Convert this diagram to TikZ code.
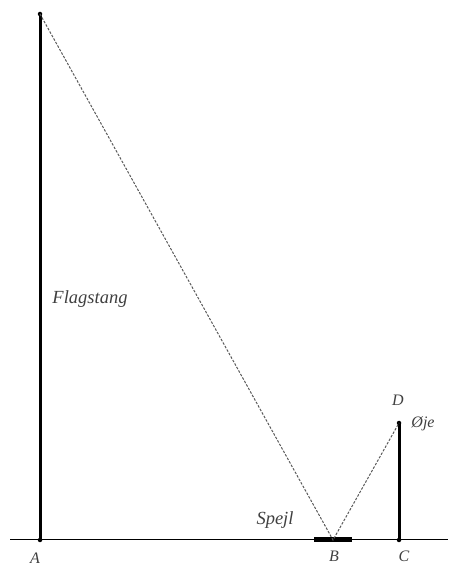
\documentclass[tikz,border=0pt]{standalone}
\usepackage{fontspec}
\setmainfont{Liberation Serif}
\begin{document}
\begin{tikzpicture}[x=1pt,y=1pt,
  pt/.style={circle,fill=black,inner sep=0pt,minimum size=4.5pt},
  lbl/.style={font=\itshape\fontsize{16}{16}\selectfont,text=black!75,inner sep=0pt},
  biglbl/.style={font=\itshape\fontsize{18.5}{18.5}\selectfont,text=black!75,inner sep=0pt},
  ray/.style={dash pattern=on 2.5pt off 1.5pt,draw=black!65,line width=1pt},
  pole/.style={line width=3pt},
  ground/.style={line width=1pt}]
\useasboundingbox (0,0) rectangle (448,567);
\coordinate (L) at (10,27);
\coordinate (R) at (448,27);
\node[pt] (A) at (40,27) {};
\node[pt] (T) at (40,553) {};
\coordinate (B) at (333,27);
\node[pt] (C) at (399,27) {};
\node[pt] (D) at (399,144) {};
\coordinate (M1) at (314,27);
\coordinate (M2) at (352,27);
\draw[ground] (L) -- (R);
\draw[pole] (A.center) -- (T.center);
\draw[pole] (C.center) -- (D.center);
\draw[line width=5pt] (M1) -- (M2);
\draw[ray] (T.center) -- (B) -- (D.center);
\node[lbl] (la) at (35,9) {A};
\node[lbl] (lb) at (334,11) {B};
\node[lbl] (lc) at (404,11) {C};
\node[lbl] (ld) at (398,167) {D};
\node[lbl] (loje) at (423,143) {Øje};
\node[biglbl] (lspejl) at (275,47) {Spejl};
\node[biglbl] (lflag) at (90,268) {Flagstang};
\end{tikzpicture}
\end{document}
